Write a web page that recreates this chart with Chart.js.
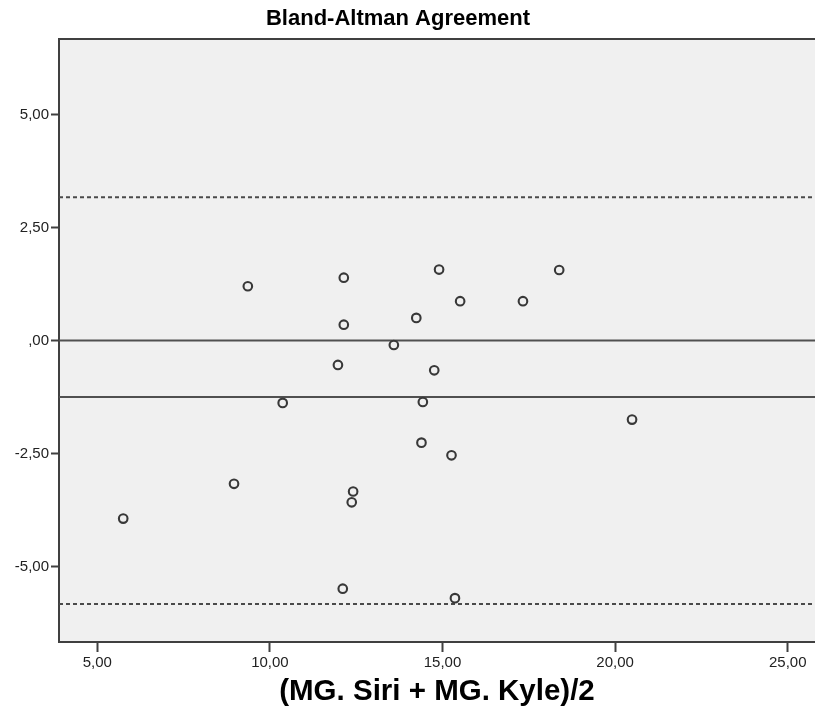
<!DOCTYPE html>
<html>
<head>
<meta charset="utf-8">
<script src="https://cdn.jsdelivr.net/npm/chart.js@4.4.1/dist/chart.umd.min.js"></script>
<style>
  body { margin: 0; background: #fff; }
  #wrap { width: 815px; height: 709px; }
</style>
</head>
<body>
<div id="wrap"><canvas id="myChart" width="815" height="709"></canvas></div>
<script>
'use strict';
// averages (x) and differences (y)
let meanValues = [5.75, 8.96, 9.36, 10.37, 11.97, 12.11, 12.14, 12.14, 12.37, 12.41, 13.59, 14.24, 14.39, 14.43, 14.76, 14.90, 15.26, 15.36, 15.51, 17.33, 18.38, 20.49];
let diffValues = [-3.94, -3.17, 1.20, -1.38, -0.54, -5.49, 1.39, 0.35, -3.58, -3.34, -0.10, 0.50, -2.26, -1.36, -0.66, 1.57, -2.54, -5.70, 0.87, 0.87, 1.56, -1.75];

let solidLines = [0, -1.25];
let dashedLines = [3.17, -5.83];

let xTicks = [5, 10, 15, 20, 25];
let xTickLabels = ['5,00', '10,00', '15,00', '20,00', '25,00'];
let yTicks = [-5, -2.5, 0, 2.5, 5];
let yTickLabels = ['-5,00', '-2,50', ',00', '2,50', '5,00'];

let xMin = 3.89, xMax = 25.79;
let yMin = -6.67, yMax = 6.67;

let fontName = "'Liberation Sans', Arial, sans-serif";
let frameColor = '#404040';

let ctx = document.getElementById('myChart').getContext('2d');

let points = [];
for (let i = 0; i < meanValues.length; i++) {
  points.push({x: meanValues[i], y: diffValues[i]});
}

function refLine(v, dashed) {
  return {
    type: 'line',
    data: [{x: xMin, y: v}, {x: xMax, y: v}],
    borderColor: dashed ? '#4a4a4a' : '#505050',
    borderWidth: 2,
    borderDash: dashed ? [4, 3] : [],
    pointRadius: 0,
    fill: false
  };
}

let datasets = [{
  type: 'scatter',
  data: points,
  pointStyle: 'circle',
  pointRadius: 4.3,
  pointBorderWidth: 2.1,
  borderColor: '#383838',
  backgroundColor: '#f0f0f0'
}];
solidLines.forEach(v => datasets.push(refLine(v, false)));
dashedLines.forEach(v => datasets.push(refLine(v, true)));

let plotFrame = {
  id: 'plotFrame',
  afterLayout(chart) {
    // the original title sits a bit left of the canvas centre
    if (chart.titleBlock) {
      chart.titleBlock.right = chart.width - 19;
    }
  },
  beforeDraw(chart) {
    let a = chart.chartArea;
    let c = chart.ctx;
    c.save();
    c.fillStyle = '#f0f0f0';
    c.fillRect(a.left, a.top, a.right - a.left, a.bottom - a.top);
    c.restore();
  },
  afterDraw(chart) {
    let a = chart.chartArea;
    let c = chart.ctx;
    c.save();
    c.strokeStyle = frameColor;
    c.lineWidth = 2;
    c.beginPath();
    c.moveTo(a.left, a.top);
    c.lineTo(a.right, a.top);
    c.stroke();
    c.restore();
  }
};

let myChart = new Chart(ctx, {
  type: 'scatter',
  data: {datasets: datasets},
  plugins: [plotFrame],
  options: {
    responsive: false,
    animation: false,
    layout: {padding: 0, autoPadding: false},
    plugins: {
      legend: {display: false},
      tooltip: {enabled: false},
      title: {
        display: true,
        text: 'Bland-Altman Agreement',
        color: '#000',
        font: {family: fontName, size: 22, weight: 'bold'},
        padding: {top: 6, bottom: 6.6}
      }
    },
    scales: {
      x: {
        type: 'linear',
        min: xMin,
        max: xMax,
        afterBuildTicks: s => { s.ticks = xTicks.map(v => ({value: v})); },
        afterFit: s => { s.height = 67; s.paddingLeft = 0; s.paddingRight = 0; },
        ticks: {
          callback: v => xTickLabels[xTicks.indexOf(v)],
          color: '#222',
          font: {family: fontName, size: 15},
          padding: 2,
          maxRotation: 0
        },
        grid: {drawOnChartArea: false, drawTicks: true, tickLength: 10, tickColor: frameColor, tickWidth: 2},
        border: {display: true, color: frameColor, width: 2},
        title: {
          display: true,
          text: '(MG. Siri + MG. Kyle)/2',
          color: '#000',
          font: {family: fontName, size: 29.5, weight: 'bold'},
          padding: {top: 0, bottom: -1}
        }
      },
      y: {
        type: 'linear',
        min: yMin,
        max: yMax,
        afterBuildTicks: s => { s.ticks = yTicks.map(v => ({value: v})); },
        afterFit: s => { s.width = 59; s.paddingTop = 0; s.paddingBottom = 0; },
        ticks: {
          callback: v => yTickLabels[yTicks.indexOf(v)],
          color: '#222',
          font: {family: fontName, size: 15},
          padding: 2
        },
        grid: {drawOnChartArea: false, drawTicks: true, tickLength: 8, tickColor: frameColor, tickWidth: 2},
        border: {display: true, color: frameColor, width: 2}
      }
    }
  }
});
</script>
</body>
</html>
